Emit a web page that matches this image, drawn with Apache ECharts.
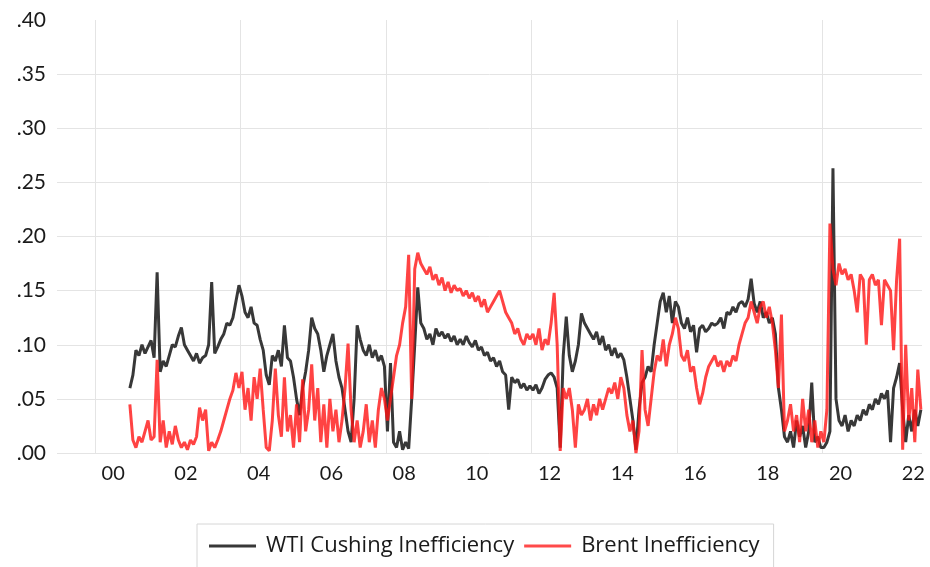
<!DOCTYPE html>
<html>
<head>
<meta charset="utf-8">
<script src="https://cdn.jsdelivr.net/npm/echarts@6/dist/echarts.min.js"></script>
<style>
html,body{margin:0;padding:0;background:#fff;}
#chart{width:930px;height:567px;}
</style>
</head>
<body>
<div id="chart"></div>
<script>
// Monthly observations starting December 2000
var startYear = 2000;
var startMonth = 11; // 0-based: December

var wtiValues = [
  .060,
  .072,.095,.09,.1,.092,.098,.104,.088,.167,.075,.085,.08,
  .09,.1,.098,.108,.116,.1,.095,.09,.085,.092,.083,.088,
  .09,.1,.158,.092,.098,.105,.11,.12,.118,.125,.14,.155,
  .145,.13,.125,.135,.12,.118,.105,.095,.072,.063,.09,.085,
  .095,.08,.118,.088,.085,.07,.05,.035,.06,.075,.095,.125,
  .115,.11,.095,.075,.09,.1,.11,.085,.07,.06,.04,.02,
  .01,.05,.118,.105,.095,.09,.1,.088,.095,.085,.09,.08,
  .02,.083,.01,.005,.02,.003,.01,.004,.05,.1,.153,.12,
  .115,.105,.11,.1,.115,.108,.112,.106,.11,.103,.108,.1,
  .105,.1,.108,.102,.098,.104,.095,.098,.09,.093,.085,.088,
  .08,.085,.075,.072,.04,.07,.065,.068,.06,.064,.058,.062,
  .058,.063,.055,.06,.068,.072,.074,.07,.06,.005,.09,.126,
  .09,.075,.085,.1,.129,.12,.115,.11,.105,.112,.1,.108,
  .095,.1,.09,.097,.088,.092,.086,.07,.05,.03,.003,.04,
  .065,.07,.08,.075,.1,.12,.14,.148,.13,.145,.12,.14,
  .135,.12,.115,.125,.112,.118,.093,.115,.118,.112,.115,.12,
  .118,.12,.125,.115,.13,.128,.135,.13,.138,.14,.135,.142,
  .161,.138,.13,.14,.125,.13,.12,.125,.11,.06,.04,.015,
  .01,.02,.005,.03,.015,.025,.005,.02,.065,.01,.015,.005,
  .005,.01,.02,.263,.05,.03,.025,.035,.02,.03,.025,.035,
  .03,.04,.035,.045,.04,.05,.045,.055,.05,.058,.01,.06,
  .07,.083,.04,.01,.035,.02,.04,.025,.04
];

var brentValues = [
  .045,
  .012,.005,.015,.01,.02,.03,.012,.015,.086,.01,.03,.005,
  .02,.008,.025,.012,.005,.01,.003,.012,.008,.015,.042,.03,
  .04,.002,.01,.005,.012,.02,.03,.04,.05,.058,.074,.06,
  .075,.04,.06,.03,.07,.05,.078,.04,.005,.002,.03,.078,
  .035,.015,.07,.02,.035,.005,.045,.01,.068,.02,.04,.082,
  .03,.06,.01,.045,.005,.05,.02,.04,.01,.03,.06,.101,
  .04,.01,.03,.005,.02,.045,.01,.03,.005,.04,.06,.05,
  .03,.05,.07,.09,.1,.12,.135,.183,.05,.17,.185,.175,
  .17,.165,.172,.16,.165,.155,.162,.15,.158,.148,.155,.15,
  .152,.145,.15,.143,.148,.14,.145,.135,.142,.13,.135,.14,
  .145,.15,.14,.13,.125,.12,.11,.115,.105,.1,.11,.105,
  .11,.1,.115,.095,.105,.1,.12,.148,.1,.002,.06,.05,
  .06,.04,.005,.045,.035,.04,.05,.03,.045,.035,.05,.04,
  .05,.06,.055,.065,.05,.07,.06,.035,.02,.03,.0,.02,
  .095,.04,.025,.05,.075,.09,.085,.105,.08,.1,.11,.125,
  .115,.09,.085,.095,.075,.08,.06,.045,.055,.07,.08,.085,
  .09,.08,.085,.075,.085,.08,.09,.085,.1,.11,.12,.125,
  .14,.13,.12,.135,.14,.125,.135,.12,.095,.06,.128,.02,
  .03,.045,.02,.035,.01,.05,.02,.04,.01,.03,.005,.02,
  .01,.04,.212,.17,.155,.175,.165,.17,.16,.165,.15,.13,
  .165,.16,.1,.16,.165,.155,.16,.118,.16,.155,.15,.095,
  .16,.198,.003,.1,.03,.06,.01,.077,.04
];

var xTickLabels = ['00','02','04','06','08','10','12','14','16','18','20','22'];
var xLabelYears = [2000,2002,2004,2006,2008,2010,2012,2014,2016,2018,2020,2022];
var xGridYears = [2000,2004,2008,2012,2016,2020];
var yTickLabels = ['.00','.05','.10','.15','.20','.25','.30','.35','.40'];

function toPairs(vals) {
  return vals.map(function (v, i) {
    var m = startMonth + i;
    return [startYear + (m + 0.5) / 12, v];
  });
}

var FONT = 'Lato';
var chart = echarts.init(document.getElementById('chart'), null, {renderer: 'canvas'});
chart.setOption({
  animation: false,
  backgroundColor: '#ffffff',
  grid: {left: 57, right: 8, top: 20, bottom: 114},
  xAxis: {
    type: 'value',
    min: 1998.955,
    max: 2022.74,
    axisLine: {show: false},
    axisTick: {show: false, customValues: xGridYears},
    splitLine: {show: true, lineStyle: {color: '#e4e4e4', width: 1}},
    axisLabel: {
      customValues: xLabelYears.map(function (y) { return y + 0.5; }),
      formatter: function (v) {
        var idx = xLabelYears.indexOf(Math.floor(v));
        return idx >= 0 ? xTickLabels[idx] : '';
      },
      fontFamily: FONT, fontSize: 20, color: '#1a1a1a', margin: 11
    }
  },
  yAxis: {
    type: 'value',
    min: 0, max: 0.4, interval: 0.05,
    axisLine: {show: false},
    axisTick: {show: false},
    splitLine: {show: true, lineStyle: {
      color: ['#e4e4e4','#e4e4e4','#e4e4e4','#e4e4e4','#e4e4e4','#e4e4e4','#e4e4e4','#e4e4e4','rgba(0,0,0,0)'],
      width: 1}},
    axisLabel: {
      formatter: function (v) { return yTickLabels[Math.round(v / 0.05)]; },
      fontFamily: FONT, fontSize: 21, color: '#1a1a1a', margin: 11
    }
  },
  legend: {
    left: 197, top: 524,
    padding: [11, 14, 12, 12],
    borderColor: '#d6d6d6', borderWidth: 1,
    icon: 'rect', itemWidth: 47, itemHeight: 3, itemGap: 10,
    textStyle: {fontFamily: 'Open Sans', fontSize: 22, color: '#1a1a1a', padding: [0, 0, 0, 5]},
    data: ['WTI Cushing Inefficiency', 'Brent Inefficiency']
  },
  series: [
    {
      name: 'WTI Cushing Inefficiency', type: 'line', showSymbol: false,
      data: toPairs(wtiValues),
      itemStyle: {color: '#383838'},
      lineStyle: {color: '#383838', width: 3}
    },
    {
      name: 'Brent Inefficiency', type: 'line', showSymbol: false,
      data: toPairs(brentValues),
      itemStyle: {color: '#ff4a4a'},
      lineStyle: {color: 'rgba(255,20,20,0.8)', width: 3}
    }
  ]
});
</script>
</body>
</html>
